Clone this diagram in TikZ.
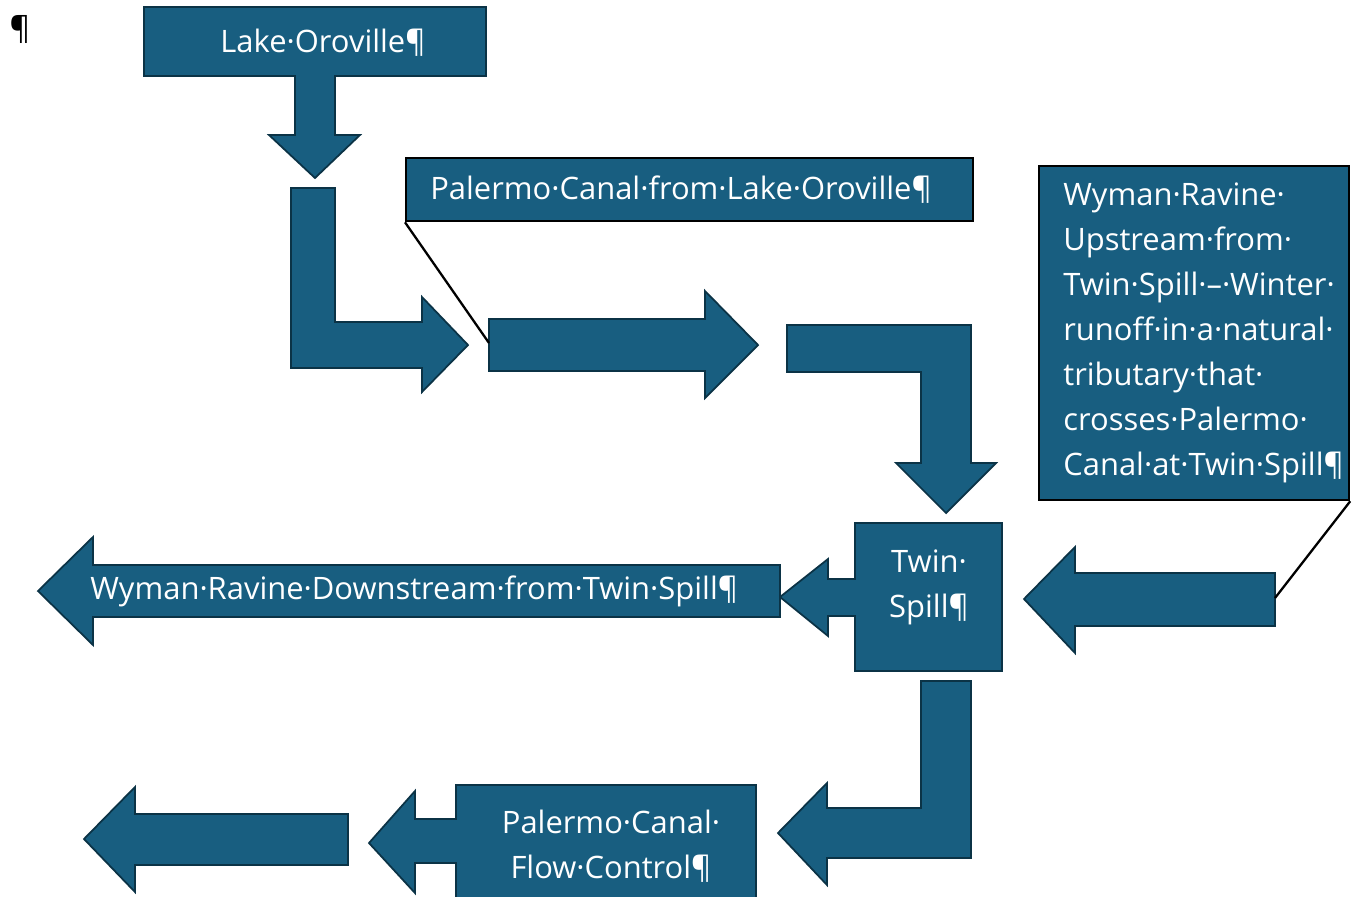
\documentclass[tikz,border=0pt]{standalone}
\usepackage{fontspec}
\setmainfont{Open Sans}
\definecolor{canal}{HTML}{185E80}
\definecolor{rim}{HTML}{0B3346}
\tikzset{
  blk/.style={fill=canal, draw=rim, line width=1pt},
  lbl/.style={text=white, font=\fontsize{17.6}{25.6}\selectfont, inner sep=0pt},
  callbox/.style={fill=canal, draw=black, line width=1.3pt, anchor=north west, inner sep=0pt},
}
\begin{document}
\begin{tikzpicture}[x=0.02cm, y=-0.02cm]
\useasboundingbox (0,0) rectangle (1352,896);
\clip (0,0) rectangle (1352,896);

% block arrows
\filldraw[blk] (144,7) -- (486,7) -- (486,76) -- (335,76) -- (335,135) -- (360,135) -- (315,178)
  -- (269,135) -- (295,135) -- (295,76) -- (144,76) -- cycle;
\filldraw[blk] (291,188) -- (335,188) -- (335,322) -- (422,322) -- (422,297) -- (468,345)
  -- (422,392) -- (422,368) -- (291,368) -- cycle;
\filldraw[blk] (489,319) -- (705,319) -- (705,291) -- (758,345) -- (705,398) -- (705,371)
  -- (489,371) -- cycle;
\filldraw[blk] (787,325) -- (971,325) -- (971,463) -- (996,463) -- (946,513) -- (896,463)
  -- (921,463) -- (921,372) -- (787,372) -- cycle;
\filldraw[blk] (855,523) -- (1002,523) -- (1002,671) -- (855,671) -- (855,616) -- (828,616)
  -- (828,636) -- (780,597) -- (828,559) -- (828,579) -- (855,579) -- cycle;
\filldraw[blk] (1275,573) -- (1275,626) -- (1075,626) -- (1075,653) -- (1024,599)
  -- (1075,547) -- (1075,573) -- cycle;
\filldraw[blk] (780,565) -- (780,617) -- (93,617) -- (93,645) -- (38,591) -- (93,537)
  -- (93,565) -- cycle;
\filldraw[blk] (921,681) -- (971,681) -- (971,858) -- (827,858) -- (827,885) -- (778,833)
  -- (827,783) -- (827,808) -- (921,808) -- cycle;
\filldraw[blk] (456,785) -- (756,785) -- (756,905) -- (456,905) -- (456,863) -- (415,863)
  -- (415,893) -- (369,843) -- (415,791) -- (415,819) -- (456,819) -- cycle;
\filldraw[blk] (348,814) -- (348,865) -- (135,865) -- (135,892) -- (84,839) -- (135,787)
  -- (135,814) -- cycle;
\coordinate (canalin) at (489,343);
\coordinate (runoffin) at (1275,598);

% callout boxes
\node[callbox, minimum width=11.34cm, minimum height=1.26cm] (fromlake) at (405,157) {};
\node[lbl, anchor=west] (fromlaketxt) at ([xshift=0.5cm]fromlake.west)
  {Palermo·Canal·from·Lake·Oroville¶};
\node[callbox, minimum width=6.2cm, minimum height=6.68cm] (upstream) at (1038,165) {};
\node[lbl, anchor=west, align=left] (upstreamtxt) at ([xshift=0.5cm]upstream.west)
  {Wyman·Ravine·\\Upstream·from·\\Twin·Spill·–·Winter·\\runoff·in·a·natural·\\tributary·that·\\crosses·Palermo·\\Canal·at·Twin·Spill¶};
\draw[line width=1.3pt] (fromlake.south west) -- (canalin);
\draw[line width=1.3pt] (upstream.south east) -- (runoffin);

% labels
\node[font=\fontsize{18}{25}\selectfont, inner sep=0pt] (mark) at (20,29) {¶};
\node[lbl] (lake) at (323,43) {Lake·Oroville¶};
\node[lbl, align=center] (twin) at (929,587) {Twin·\\Spill¶};
\node[lbl, anchor=west] (downstream) at (90,591) {Wyman·Ravine·Downstream·from·Twin·Spill¶};
\node[lbl, align=center] (flowctl) at (611,846) {Palermo·Canal·\\Flow·Control¶};
\end{tikzpicture}
\end{document}
